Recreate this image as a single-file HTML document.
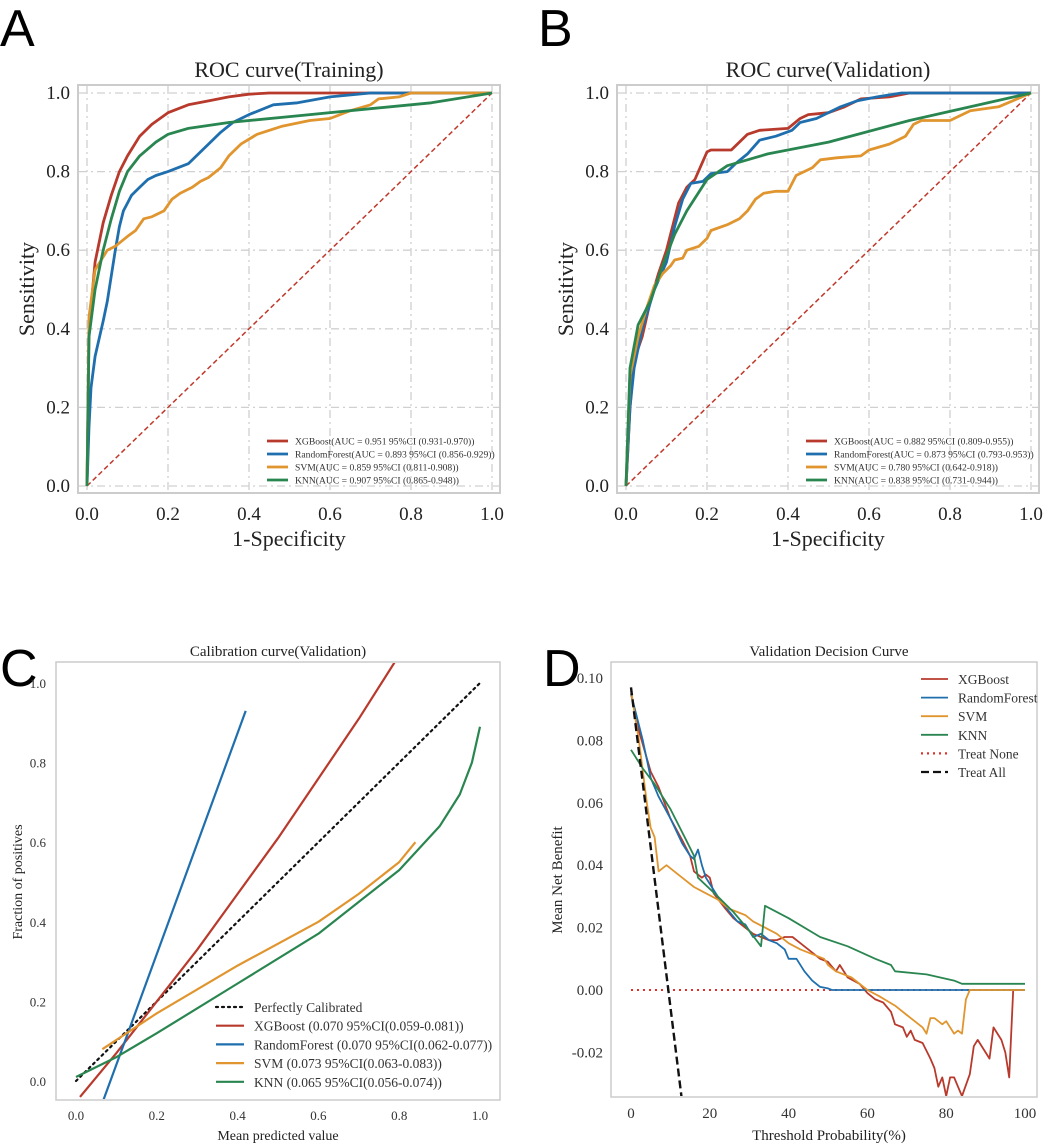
<!DOCTYPE html>
<html><head><meta charset="utf-8">
<style>
html,body{margin:0;padding:0;background:#fff;}
svg{display:block;font-family:"Liberation Serif",serif;}
.lt{font-family:"Liberation Sans",sans-serif;}
</style></head>
<body>
<svg id="fig" width="1052" height="1145" viewBox="0 0 1052 1145" xmlns="http://www.w3.org/2000/svg">
<text class="lt" x="0" y="46" font-size="52">A</text>
<text class="lt" x="538" y="46" font-size="52">B</text>
<text class="lt" x="0" y="686" font-size="52">C</text>
<text class="lt" x="543" y="686" font-size="52">D</text>
</svg>
<script>
// ===== Panel A data (ROC training) =====
const rocTicks = [0, 0.2, 0.4, 0.6, 0.8, 1.0];
const rocTickLabels = ["0.0", "0.2", "0.4", "0.6", "0.8", "1.0"];
const aXgbX = [0,0.005,0.02,0.04,0.06,0.08,0.1,0.13,0.16,0.2,0.25,0.3,0.35,0.4,0.45,1];
const aXgbY = [0,0.4,0.57,0.67,0.74,0.8,0.84,0.89,0.92,0.95,0.97,0.98,0.99,0.997,1,1];
const aRfX = [0,0.005,0.01,0.02,0.04,0.05,0.07,0.08,0.09,0.11,0.13,0.15,0.17,0.2,0.25,0.27,0.3,0.33,0.36,0.4,0.46,0.52,0.6,0.7,1];
const aRfY = [0,0.15,0.25,0.33,0.42,0.47,0.6,0.66,0.7,0.74,0.76,0.78,0.79,0.8,0.82,0.84,0.87,0.9,0.925,0.945,0.97,0.975,0.99,1,1];
const aSvmX = [0,0.005,0.02,0.05,0.07,0.1,0.12,0.14,0.16,0.19,0.21,0.23,0.26,0.28,0.3,0.33,0.35,0.38,0.42,0.48,0.55,0.6,0.65,0.7,0.72,0.77,0.8,1];
const aSvmY = [0,0.43,0.55,0.6,0.61,0.635,0.65,0.68,0.685,0.7,0.73,0.745,0.76,0.775,0.785,0.81,0.84,0.87,0.895,0.915,0.93,0.935,0.955,0.97,0.985,0.99,1,1];
const aKnnX = [0,0.005,0.02,0.04,0.06,0.08,0.1,0.13,0.17,0.2,0.25,0.35,0.5,0.7,0.85,1];
const aKnnY = [0,0.38,0.5,0.6,0.68,0.75,0.8,0.84,0.875,0.895,0.91,0.925,0.94,0.96,0.975,1];
const aLegend = ["XGBoost(AUC = 0.951 95%CI (0.931-0.970))","RandomForest(AUC = 0.893 95%CI (0.856-0.929))","SVM(AUC = 0.859 95%CI (0.811-0.908))","KNN(AUC = 0.907 95%CI (0.865-0.948))"];
// ===== Panel B data (ROC validation) =====
const bXgbX = [0,0.01,0.02,0.04,0.06,0.08,0.1,0.13,0.15,0.17,0.2,0.21,0.26,0.28,0.3,0.33,0.4,0.43,0.45,0.5,0.54,0.58,0.65,0.7,1];
const bXgbY = [0,0.2,0.32,0.38,0.47,0.54,0.6,0.72,0.76,0.78,0.85,0.855,0.855,0.875,0.895,0.905,0.91,0.935,0.945,0.95,0.965,0.985,0.99,1,1];
const bRfX = [0,0.01,0.02,0.04,0.07,0.1,0.12,0.14,0.16,0.19,0.21,0.25,0.27,0.3,0.33,0.37,0.41,0.43,0.47,0.53,0.57,0.62,0.68,1];
const bRfY = [0,0.2,0.3,0.4,0.5,0.57,0.66,0.73,0.77,0.775,0.795,0.8,0.82,0.845,0.88,0.89,0.905,0.925,0.935,0.965,0.98,0.99,1,1];
const bSvmX = [0,0.01,0.03,0.05,0.07,0.09,0.11,0.12,0.14,0.15,0.18,0.2,0.21,0.25,0.28,0.3,0.32,0.34,0.37,0.4,0.42,0.44,0.46,0.48,0.52,0.58,0.6,0.65,0.67,0.69,0.71,0.73,0.8,0.85,0.92,1];
const bSvmY = [0,0.28,0.38,0.45,0.51,0.54,0.56,0.575,0.58,0.6,0.61,0.63,0.65,0.665,0.68,0.7,0.73,0.745,0.75,0.75,0.79,0.8,0.81,0.83,0.835,0.84,0.855,0.87,0.88,0.89,0.92,0.93,0.93,0.955,0.965,1];
const bKnnX = [0,0.01,0.03,0.06,0.09,0.12,0.15,0.2,0.25,0.35,0.5,0.7,1];
const bKnnY = [0,0.3,0.41,0.47,0.56,0.64,0.7,0.78,0.815,0.845,0.875,0.93,1];
const bLegend = ["XGBoost(AUC = 0.882 95%CI (0.809-0.955))","RandomForest(AUC = 0.873 95%CI (0.793-0.953))","SVM(AUC = 0.780 95%CI (0.642-0.918))","KNN(AUC = 0.838 95%CI (0.731-0.944))"];
// ===== Panel C data (calibration) =====
const cPerfX = [0, 1];
const cPerfY = [0, 1];
const cXgbX = [0.01,0.1,0.2,0.3,0.4,0.5,0.6,0.7,0.8];
const cXgbY = [-0.04,0.07,0.2,0.33,0.47,0.61,0.76,0.91,1.07];
const cRfX = [0.067,0.42];
const cRfY = [-0.05,0.93];
const cSvmX = [0.065,0.2,0.4,0.6,0.7,0.8,0.84];
const cSvmY = [0.08,0.17,0.29,0.4,0.47,0.55,0.6];
const cKnnX = [0,0.1,0.2,0.4,0.6,0.7,0.8,0.9,0.95,0.98,1];
const cKnnY = [0.01,0.06,0.12,0.245,0.37,0.45,0.53,0.64,0.72,0.8,0.89];
const cLegend = ["Perfectly Calibrated","XGBoost (0.070 95%CI(0.059-0.081))","RandomForest (0.070 95%CI(0.062-0.077))","SVM (0.073 95%CI(0.063-0.083))","KNN (0.065 95%CI(0.056-0.074))"];
// ===== Panel D data (decision curve) =====
const dXTicks = [0,20,40,60,80,100];
const dYTicks = [-0.02,0,0.02,0.04,0.06,0.08,0.10];
const dYTickLabels = ["-0.02","0.00","0.02","0.04","0.06","0.08","0.10"];
const dXgbX = [0,2,5,7,10,13,15,16,18,19,20,21,24,26,28,31,33,35,37,39,41,43,45,48,50,52,53,55,58,60,62,64,66,67,69,70,71,72,74,76,77,78,79,80,81,82,83,84,86,87,88,91,92,94,95,96,97,100];
const dXgbY = [0.095,0.083,0.07,0.065,0.055,0.048,0.043,0.038,0.036,0.037,0.036,0.031,0.026,0.023,0.021,0.018,0.017,0.016,0.016,0.017,0.017,0.015,0.013,0.01,0.009,0.006,0.008,0.004,0.002,-0.001,-0.003,-0.004,-0.007,-0.011,-0.012,-0.015,-0.013,-0.016,-0.017,-0.022,-0.025,-0.031,-0.028,-0.034,-0.028,-0.028,-0.031,-0.034,-0.027,-0.018,-0.016,-0.022,-0.012,-0.016,-0.02,-0.028,0,0];
const dRfX = [0,1,3,5,7,10,13,15,16,17,18,19,20,22,25,27,29,31,33,35,37,39,40,42,44,46,48,50,51,100];
const dRfY = [0.095,0.09,0.08,0.068,0.062,0.055,0.047,0.043,0.042,0.045,0.04,0.036,0.034,0.03,0.025,0.022,0.021,0.017,0.018,0.016,0.015,0.013,0.01,0.01,0.006,0.003,0.001,0.0005,0,0];
const dSvmX = [0,2,4,5,6,7,8,9,11,13,16,19,22,25,29,31,34,37,40,43,47,49,50,52,56,60,63,67,70,72,74,75,76,77,79,80,82,83,84,85,86,100];
const dSvmY = [0.096,0.08,0.06,0.052,0.049,0.038,0.039,0.04,0.038,0.036,0.033,0.031,0.029,0.026,0.024,0.022,0.02,0.018,0.015,0.013,0.011,0.01,0.008,0.006,0.004,0,-0.002,-0.005,-0.008,-0.01,-0.012,-0.014,-0.009,-0.009,-0.011,-0.01,-0.014,-0.013,-0.014,-0.003,0,0];
const dKnnX = [0,3,6,10,14,16,17,22,26,30,33,34,40,48,55,62,66,67,75,82,84,100];
const dKnnY = [0.077,0.071,0.066,0.058,0.048,0.043,0.036,0.03,0.025,0.019,0.014,0.027,0.023,0.017,0.014,0.01,0.008,0.006,0.005,0.003,0.002,0.002];
const dNoneX = [0,100];
const dNoneY = [0,0];
const dAllX = [0,12.8];
const dAllY = [0.097,-0.034];
const dLegend = ["XGBoost","RandomForest","SVM","KNN","Treat None","Treat All"];

const C = {red:"#b83a2c", blue:"#1f6fae", orange:"#e0952f", green:"#2a8650"};
const NS = "http://www.w3.org/2000/svg";
const svg = document.getElementById('fig');
function mk(tag, attrs, parent){
  const e = document.createElementNS(NS, tag);
  for (const k in attrs) e.setAttribute(k, attrs[k]);
  (parent||svg).appendChild(e);
  return e;
}
function scale(d0,d1,r0,r1){ return v => r0 + (v-d0)/(d1-d0)*(r1-r0); }
function drawLine(g, xs, ys, sx, sy, style, name){
  const pts = xs.map((x,i)=> sx(x).toFixed(1)+","+sy(ys[i]).toFixed(1)).join(" ");
  const p = mk('polyline', Object.assign({points:pts, fill:"none", "stroke-linejoin":"round"}, style), g);
  
  
  return p;
}
function clip(id, x, y, w, h){
  const cp = mk('clipPath', {id:id});
  mk('rect', {x:x, y:y, width:w, height:h}, cp);
}

// ---------- ROC panels ----------
function rocPanel(pfx, fx0, fx1, x0px, x1px, title, series, legend, legX){
  const g = mk('g', {});
  
  
  const sx = scale(0,1,x0px,x1px), sy = scale(0,1,486,93);
  const cx = (fx0+fx1)/2;
  const t = mk('text', {x:cx, y:77, "font-size":22, "text-anchor":"middle", fill:"#222"}, g);
  t.textContent = title;
  
  
  rocTicks.forEach((v,i)=>{
    const gx = mk('line', {x1:sx(v), x2:sx(v), y1:86, y2:492, stroke:"#d0d0d0", "stroke-width":1.3, "stroke-dasharray":"8,4,2,4"}, g);
    
    
    const gy = mk('line', {x1:fx0+1, x2:fx1-1, y1:sy(v), y2:sy(v), stroke:"#d0d0d0", "stroke-width":1.3, "stroke-dasharray":"8,4,2,4"}, g);
    
    
    const tx = mk('text', {x:sx(v), y:520, "font-size":19, "text-anchor":"middle", fill:"#222"}, g);
    tx.textContent = rocTickLabels[i];
    
    
    const ty = mk('text', {x:fx0-8, y:sy(v)+6, "font-size":19, "text-anchor":"end", fill:"#222"}, g);
    ty.textContent = rocTickLabels[i];
    
    
  });
  const fr = mk('rect', {x:fx0, y:85, width:fx1-fx0, height:408, fill:"none", stroke:"#cccccc", "stroke-width":2}, g);
  
  
  drawLine(g, [0,1],[0,1], sx, sy, {stroke:"#c0392b","stroke-width":1.5,"stroke-dasharray":"5,3"}, pfx + '-reference-diagonal');
  const cols = [C.red, C.blue, C.orange, C.green];
  const nm = ['xgboost','randomforest','svm','knn'];
  series.forEach((s,i)=> drawLine(g, s[0], s[1], sx, sy, {stroke:cols[i],"stroke-width":2.8}, pfx + '-' + nm[i] + '-curve'));
  const xl = mk('text', {x:cx, y:546, "font-size":22, "text-anchor":"middle", fill:"#222"}, g);
  xl.textContent = "1-Specificity";
  
  
  const yl = mk('text', {x:0, y:0, "font-size":22, "text-anchor":"middle", fill:"#222", transform:`translate(${fx0-44},289) rotate(-90)`}, g);
  yl.textContent = "Sensitivity";
  
  
  legend.forEach((txt,i)=>{
    const y = 441 + i*13;
    const e = mk('g', {}, g);
    
    
    mk('line', {x1:legX, x2:legX+21, y1:y, y2:y, stroke:cols[i], "stroke-width":2.8}, e);
    const tt = mk('text', {x:legX+28, y:y+3.5, "font-size":9.6, fill:"#333"}, e);
    tt.textContent = txt;
  });
}
rocPanel('a', 78, 500, 87, 492, "ROC curve(Training)", [[aXgbX,aXgbY],[aRfX,aRfY],[aSvmX,aSvmY],[aKnnX,aKnnY]], aLegend, 267);
rocPanel('b', 617, 1039, 626, 1031, "ROC curve(Validation)", [[bXgbX,bXgbY],[bRfX,bRfY],[bSvmX,bSvmY],[bKnnX,bKnnY]], bLegend, 806);

// ---------- Panel C ----------
(function(){
  const g = mk('g', {});
  
  
  const sx = scale(0,1,76,480), sy = scale(0,1,1081,683);
  clip('clipC', 57, 663, 442, 436);
  const t = mk('text', {x:278, y:656, "font-size":15, "text-anchor":"middle", fill:"#222"}, g);
  t.textContent = "Calibration curve(Validation)";
  
  
  const fr = mk('rect', {x:56, y:662, width:444, height:438, fill:"none", stroke:"#cccccc", "stroke-width":1.5}, g);
  
  
  rocTicks.forEach((v,i)=>{
    const tx = mk('text', {x:sx(v), y:1120, "font-size":13, "text-anchor":"middle", fill:"#333"}, g);
    tx.textContent = rocTickLabels[i];
    
    
    const ty = mk('text', {x:46, y:sy(v)+5, "font-size":13, "text-anchor":"end", fill:"#333"}, g);
    ty.textContent = rocTickLabels[i];
    
    
  });
  const cg = mk('g', {"clip-path":"url(#clipC)"}, g);
  drawLine(cg, cPerfX, cPerfY, sx, sy, {stroke:"#111","stroke-width":2.2,"stroke-dasharray":"2,4","stroke-linecap":"round"}, 'perfectly-calibrated-line');
  drawLine(cg, cXgbX, cXgbY, sx, sy, {stroke:C.red,"stroke-width":2.2}, 'calibration-xgboost-curve');
  drawLine(cg, cRfX, cRfY, sx, sy, {stroke:C.blue,"stroke-width":2.2}, 'calibration-randomforest-curve');
  drawLine(cg, cSvmX, cSvmY, sx, sy, {stroke:C.orange,"stroke-width":2.2}, 'calibration-svm-curve');
  drawLine(cg, cKnnX, cKnnY, sx, sy, {stroke:C.green,"stroke-width":2.2}, 'calibration-knn-curve');
  const xl = mk('text', {x:278, y:1140, "font-size":14, "text-anchor":"middle", fill:"#222"}, g);
  xl.textContent = "Mean predicted value";
  
  
  const yl = mk('text', {x:0, y:0, "font-size":14, "text-anchor":"middle", fill:"#222", transform:"translate(22,882) rotate(-90)"}, g);
  yl.textContent = "Fraction of positives";
  
  
  const cols = ["#111", C.red, C.blue, C.orange, C.green];
  cLegend.forEach((txt,i)=>{
    const y = 1007 + i*18.7;
    const e = mk('g', {}, g);
    
    
    const st = {x1:216, x2:244, y1:y, y2:y, stroke:cols[i], "stroke-width":2.2};
    if(i===0){ st["stroke-dasharray"]="2,4"; st["stroke-linecap"]="round"; }
    mk('line', st, e);
    const tt = mk('text', {x:254, y:y+5, "font-size":13.5, fill:"#333"}, e);
    tt.textContent = txt;
  });
})();

// ---------- Panel D ----------
(function(){
  const g = mk('g', {});
  
  
  const sx = scale(0,100,631,1025), sy = scale(0,0.1,990,678);
  clip('clipD', 612, 663, 424, 433);
  const t = mk('text', {x:829, y:656, "font-size":15, "text-anchor":"middle", fill:"#222"}, g);
  t.textContent = "Validation Decision Curve";
  
  
  const fr = mk('rect', {x:611, y:662, width:426, height:435, fill:"none", stroke:"#cccccc", "stroke-width":1.5}, g);
  
  
  dXTicks.forEach(v=>{
    const tx = mk('text', {x:sx(v), y:1118, "font-size":15, "text-anchor":"middle", fill:"#333"}, g);
    tx.textContent = String(v);
    
    
  });
  dYTicks.forEach((v,i)=>{
    const ty = mk('text', {x:603, y:sy(v)+5, "font-size":15, "text-anchor":"end", fill:"#333"}, g);
    ty.textContent = dYTickLabels[i];
    
    
  });
  const cg = mk('g', {"clip-path":"url(#clipD)"}, g);
  drawLine(cg, dNoneX, dNoneY, sx, sy, {stroke:"#e0302a","stroke-width":2,"stroke-dasharray":"2,4"}, 'treat-none-line');
  drawLine(cg, dXgbX, dXgbY, sx, sy, {stroke:C.red,"stroke-width":1.8}, 'decision-xgboost-curve');
  drawLine(cg, dRfX, dRfY, sx, sy, {stroke:C.blue,"stroke-width":1.8}, 'decision-randomforest-curve');
  drawLine(cg, dSvmX, dSvmY, sx, sy, {stroke:C.orange,"stroke-width":1.8}, 'decision-svm-curve');
  drawLine(cg, dKnnX, dKnnY, sx, sy, {stroke:C.green,"stroke-width":1.8}, 'decision-knn-curve');
  drawLine(cg, dAllX, dAllY, sx, sy, {stroke:"#111","stroke-width":2.4,"stroke-dasharray":"8,4"}, 'treat-all-line');
  const xl = mk('text', {x:829, y:1140, "font-size":15, "text-anchor":"middle", fill:"#222"}, g);
  xl.textContent = "Threshold Probability(%)";
  
  
  const yl = mk('text', {x:0, y:0, "font-size":15, "text-anchor":"middle", fill:"#222", transform:"translate(562,880) rotate(-90)"}, g);
  yl.textContent = "Mean Net Benefit";
  
  
  const cols = [C.red, C.blue, C.orange, C.green, "#e0302a", "#111"];
  dLegend.forEach((txt,i)=>{
    const y = 679 + i*18.6;
    const e = mk('g', {}, g);
    
    
    const st = {x1:921, x2:948, y1:y, y2:y, stroke:cols[i], "stroke-width":i>=4?2.2:1.8};
    if(i===4) st["stroke-dasharray"]="2,4";
    if(i===5) st["stroke-dasharray"]="8,4";
    mk('line', st, e);
    const tt = mk('text', {x:958, y:y+5, "font-size":13.5, fill:"#333"}, e);
    tt.textContent = txt;
  });
})();
</script>
</body></html>
